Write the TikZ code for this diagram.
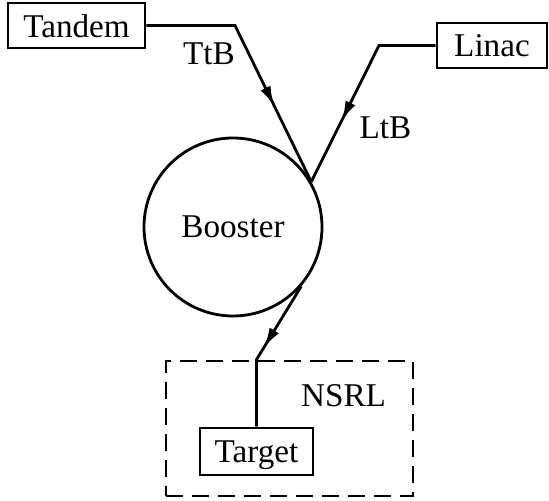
\documentclass[tikz,border=0pt]{standalone}
\usepackage{fontspec}
\setmainfont{Liberation Serif}
\usetikzlibrary{arrows.meta,decorations.markings}
\tikzset{
  box/.style={draw, rectangle, inner sep=0pt, text depth=0pt},
  beam/.style={postaction={decorate}, decoration={markings,
    mark=at position #1 with {\arrow{Latex[length=10pt,width=5.5pt]}}}},
}
\begin{document}
\begin{tikzpicture}[x=0.5pt, y=-0.5pt, line width=1.4pt,
  font=\fontsize{16.6}{20}\selectfont]
\useasboundingbox (0,0) rectangle (549,501);
\node[box, minimum width=68.5pt, minimum height=22.5pt] (tandem) at (76.5,25.5) {Tandem};
\node[box, minimum width=55pt, minimum height=22.5pt] (linac) at (492,45.5) {Linac};
\node[draw, circle, minimum size=89pt, inner sep=0pt] (booster) at (233,227) {Booster};
\node[draw, dash pattern=on 8.5pt off 4.5pt, minimum width=123.5pt, minimum height=67.5pt,
  inner sep=0pt] (nsrl) at (289.5,428.5) {};
\node[box, minimum width=56.5pt, minimum height=23.5pt] (target) at (256.5,451.5) {Target};
\node (ttb) at (209,54) {TtB};
\node (ltb) at (385.5,127.5) {LtB};
\node (nsrllabel) at (343.5,396) {NSRL};
\coordinate (tbend) at (235,25.5);
\coordinate (lbend) at (379,45.5);
\coordinate (split) at (target.north |- nsrl.north);
\draw[beam=0.68] (tandem.east) -- (tbend) -- (booster.30);
\draw[beam=0.675] (linac.west) -- (lbend) -- (booster.30);
\draw[beam=0.47] (booster.-41) -- (split) -- (target.north);
\end{tikzpicture}
\end{document}
